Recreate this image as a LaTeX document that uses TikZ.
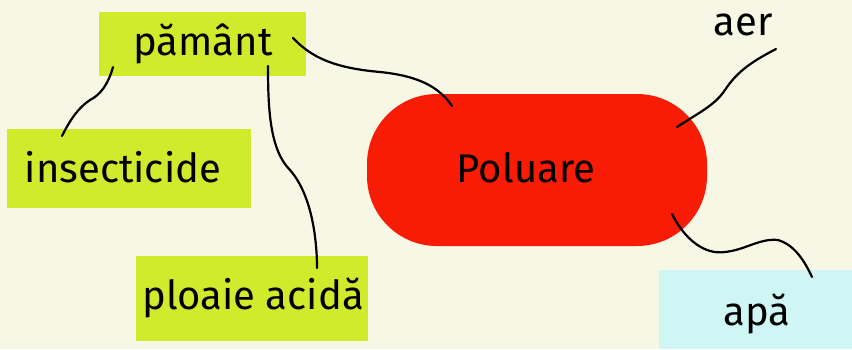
\documentclass[tikz,border=0pt]{standalone}
\usepackage{fontspec}
\setmainfont{Fira Sans}
\definecolor{bgc}{RGB}{246,247,228}
\definecolor{grn}{RGB}{208,235,44}
\definecolor{redc}{RGB}{248,28,6}
\definecolor{cyn}{RGB}{207,245,245}
\begin{document}
\begin{tikzpicture}[x=1pt,y=-1pt,
  lbl/.style={font=\fontsize{40}{44}\selectfont, text=black},
  gbox/.style={fill=grn, draw=none},
  conn/.style={line width=2.2pt, line cap=round}]
\fill[bgc] (0,0) rectangle (852,349);
\useasboundingbox (0,0) rectangle (852,349);
% boxes
\fill[gbox] (99,12) rectangle (306,76);
\node[lbl] (pamant) at (203,44) {pământ};
\fill[gbox] (7,129) rectangle (251,208);
\node[lbl] (insect) at (123,167) {insecticide};
\fill[gbox] (136,256) rectangle (368,341);
\node[lbl] (ploaie) at (253,298) {ploaie acidă};
\fill[redc, rounded corners=70pt] (367,94) rectangle (707,246);
\node[lbl] (poluare) at (526,168) {Poluare};
\node[lbl] (aer) at (743,25) {aer};
\fill[cyn] (659,270) rectangle (852,349);
\node[lbl] (apa) at (757,314) {apă};
% connector ends
\coordinate (p1) at (293,38);
\coordinate (q1) at (452,106);
\coordinate (p2) at (113,67);
\coordinate (q2) at (62,136);
\coordinate (p3) at (268,66);
\coordinate (q3) at (317,268);
\coordinate (p4) at (677,127);
\coordinate (q4) at (776,49);
\coordinate (p5) at (672,214);
\coordinate (q5) at (812,277);
\draw[conn] (p1) .. controls (312,58) and (335,68) .. (380,72) .. controls (420,76) and (440,88) .. (q1);
\draw[conn] (p2) .. controls (108,85) and (100,95) .. (90,100) .. controls (78,108) and (70,120) .. (q2);
\draw[conn] (p3) .. controls (268,110) and (270,150) .. (290,170) .. controls (312,195) and (317,240) .. (q3);
\draw[conn] (p4) .. controls (700,112) and (715,105) .. (725,90) .. controls (738,70) and (755,60) .. (q4);
\draw[conn] (p5) .. controls (685,240) and (705,255) .. (725,252) .. controls (745,250) and (760,238) .. (778,240) .. controls (795,245) and (805,262) .. (q5);
\end{tikzpicture}
\end{document}
